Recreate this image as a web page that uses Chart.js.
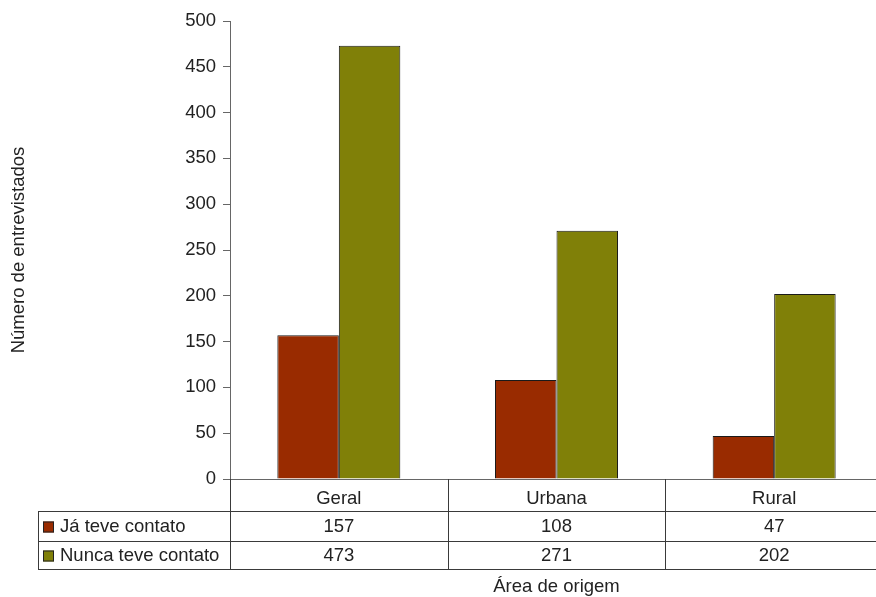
<!DOCTYPE html>
<html>
<head>
<meta charset="utf-8">
<script src="https://cdn.jsdelivr.net/npm/chart.js@4/dist/chart.umd.min.js"></script>
<style>
html,body{margin:0;padding:0;background:#fff;overflow:hidden;width:876px;height:597px;}
canvas{display:block;}
</style>
</head>
<body>
<canvas id="c" width="884" height="597"></canvas>
<script>
const categories = ['Geral', 'Urbana', 'Rural'];
const seriesNames = ['Já teve contato', 'Nunca teve contato'];
const jaTeveContato = [157, 108, 47];
const nuncaTeveContato = [473, 271, 202];
const seriesColors = ['#992B00', '#808008'];
const yTitle = 'Número de entrevistados';
const xTitle = 'Área de origem';

const FONT = 'Liberation Sans, Arial, sans-serif';
const FS = 18.5;
const lineCol = '#3a3a3a';

const tablePlugin = {
  id: 'dataTable',
  afterDraw(chart) {
    const ctx = chart.ctx;
    const xs = chart.scales.x;
    const ys = chart.scales.y;
    const left = 38;
    const axisX = ys.right;
    const right = chart.width;
    const top = ys.bottom;
    const r1 = 511, r2 = 541, r3 = 569;
    const half = (xs.getPixelForValue(1) - xs.getPixelForValue(0)) / 2;
    ctx.save();
    ctx.strokeStyle = lineCol;
    ctx.lineWidth = 1;
    ctx.beginPath();
    [r1, r2, r3].forEach(y => { ctx.moveTo(left, y + 0.5); ctx.lineTo(right, y + 0.5); });
    ctx.moveTo(left + 0.5, r1); ctx.lineTo(left + 0.5, r3 + 1);
    ctx.moveTo(axisX + 0.5, top); ctx.lineTo(axisX + 0.5, r3 + 1);
    categories.forEach((c, i) => {
      const xb = Math.round(xs.getPixelForValue(i) + half) + 0.5;
      ctx.moveTo(xb, top); ctx.lineTo(xb, r3 + 1);
    });
    ctx.stroke();

    ctx.font = FS + 'px ' + FONT;
    ctx.fillStyle = '#222';
    ctx.textBaseline = 'middle';
    const rows = [jaTeveContato, nuncaTeveContato];
    const rowMid = [(r1 + r2) / 2 + 1, (r2 + r3) / 2 + 1];
    rows.forEach((vals, ri) => {
      const ym = rowMid[ri];
      ctx.fillStyle = seriesColors[ri];
      ctx.fillRect(43, ym - 5.5, 11, 11);
      ctx.strokeStyle = '#222';
      ctx.strokeRect(43.5, ym - 5, 10, 10);
      ctx.fillStyle = '#222';
      ctx.textAlign = 'left';
      ctx.fillText(seriesNames[ri], 60, ym);
      ctx.textAlign = 'center';
      vals.forEach((v, i) => {
        ctx.fillText(String(v), xs.getPixelForValue(i), ym);
      });
    });
    ctx.restore();
  }
};

new Chart(document.getElementById('c'), {
  type: 'bar',
  data: {
    labels: categories,
    datasets: [
      { label: seriesNames[0], data: jaTeveContato, backgroundColor: seriesColors[0], borderColor: '#1a1a1a', borderWidth: 1 },
      { label: seriesNames[1], data: nuncaTeveContato, backgroundColor: seriesColors[1], borderColor: '#1a1a1a', borderWidth: 1 }
    ]
  },
  options: {
    responsive: false,
    animation: false,
    devicePixelRatio: 1,
    layout: { padding: { top: 21, right: 1, left: 0, bottom: 0 } },
    plugins: { legend: { display: false }, tooltip: { enabled: false } },
    datasets: { bar: { categoryPercentage: 0.565, barPercentage: 1 } },
    scales: {
      y: {
        min: 0, max: 500,
        ticks: { stepSize: 50, color: '#222', font: { family: FONT, size: FS }, padding: 7 },
        grid: { drawOnChartArea: false, drawTicks: true, tickLength: 7, color: '#666' },
        border: { color: '#666', width: 1 },
        title: { display: true, text: yTitle, color: '#222', font: { family: FONT, size: FS }, padding: { top: 8, bottom: 0 } },
        afterFit(s) { s.width = 230; }
      },
      x: {
        ticks: { color: '#222', font: { family: FONT, size: FS }, padding: 1 },
        grid: { display: false },
        border: { color: '#666', width: 1 },
        title: { display: true, text: xTitle, color: '#222', font: { family: FONT, size: FS }, padding: { top: 0, bottom: -1 } },
        afterFit(s) { s.height = 118; }
      }
    }
  },
  plugins: [tablePlugin]
});
</script>
</body>
</html>
